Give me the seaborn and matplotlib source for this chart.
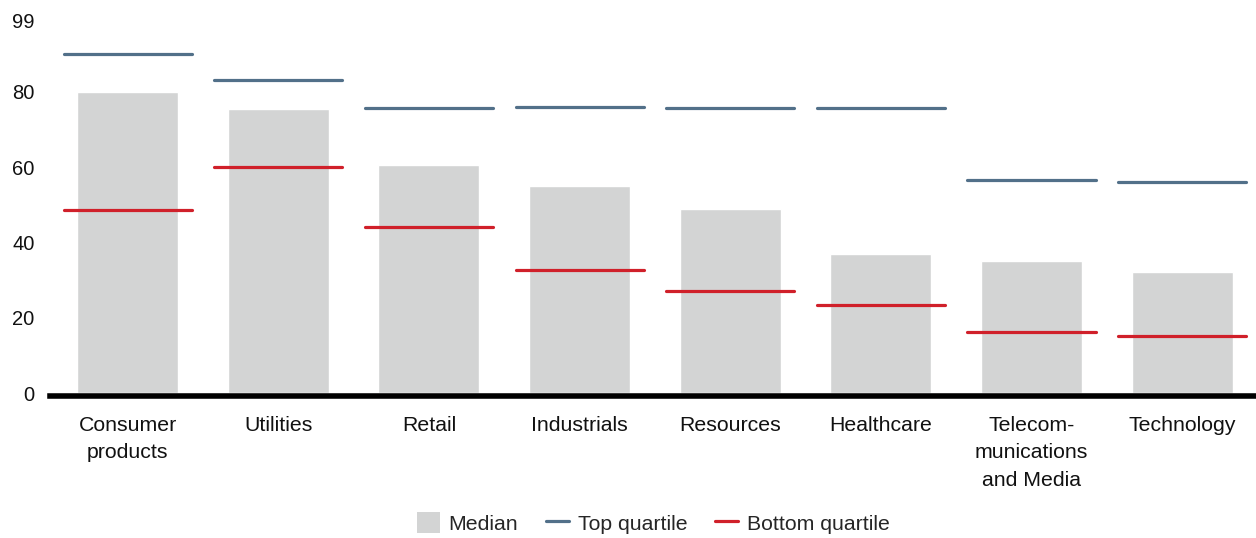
import numpy as np
import pandas as pd
import matplotlib
matplotlib.use('Agg')
import matplotlib.pyplot as plt
from matplotlib.patches import Patch
from matplotlib.lines import Line2D
import seaborn as sns

# Values
sectors = ['Consumer\nproducts', 'Utilities', 'Retail', 'Industrials', 'Resources',
           'Healthcare', 'Telecom-\nmunications\nand Media', 'Technology']
median = [80.0, 75.5, 60.6, 55.1, 49.0, 37.1, 35.2, 32.1]
top_quartile = [90.1, 83.1, 75.8, 76.0, 75.8, 75.8, 56.6, 56.1]
bottom_quartile = [48.7, 60.1, 44.1, 32.7, 27.1, 23.4, 16.2, 15.2]
y_ticks = [0, 20, 40, 60, 80, 99]

bar_color = '#d3d4d4'
top_color = '#527089'
bottom_color = '#d0202a'

sns.set_theme(style='white')
plt.rcParams['font.family'] = ['Liberation Sans', 'DejaVu Sans']

df = pd.DataFrame({'sector': sectors, 'median': median,
                   'top': top_quartile, 'bottom': bottom_quartile})

fig = plt.figure(figsize=(12.56, 5.38), dpi=100)
ax = fig.add_axes([50 / 1256, 0.269, 1 - 50 / 1256, 0.962 - 0.269])

sns.barplot(data=df, x='sector', y='median', color=bar_color, width=0.67,
            saturation=1, ax=ax)

# quartile markers, centred on each category slot
pos = np.arange(len(sectors))
half = 0.425
ax.hlines(df['top'], pos - half, pos + half, color=top_color, lw=2.3,
          capstyle='round')
ax.hlines(df['bottom'], pos - half, pos + half, color=bottom_color, lw=2.3,
          capstyle='round')

ax.set_xlim(-0.515, 7.49)
ax.set_ylim(0, 99)
ax.set_yticks(y_ticks)
ax.set_xticks(pos)
ax.set_xticklabels(sectors)
ax.set_xlabel('')
ax.set_ylabel('')
ax.tick_params(axis='y', length=0, pad=11, labelsize=14.5, labelcolor='#111111')
ax.tick_params(axis='x', length=0, pad=14, labelsize=15.3, labelcolor='#111111')

for side in ['left', 'right', 'top']:
    ax.spines[side].set_visible(False)
ax.spines['bottom'].set_color('black')
ax.spines['bottom'].set_linewidth(4)
ax.spines['bottom'].set_position(('outward', 2))

handles = [
    Patch(facecolor=bar_color, edgecolor='none', label='Median'),
    Line2D([], [], color=top_color, lw=2.3, label='Top quartile'),
    Line2D([], [], color=bottom_color, lw=2.3, label='Bottom quartile'),
]
fig.legend(handles=handles, loc='center', bbox_to_anchor=(653 / 1256, 15 / 538),
           ncol=3, frameon=False, fontsize=15.3, handlelength=1.1,
           handleheight=1.1, handletextpad=0.4, columnspacing=1.3)

# wider line spacing for the wrapped sector names
fig.canvas.draw()
for tick in ax.xaxis.get_major_ticks():
    tick.label1.set_linespacing(1.57)

fig.savefig('out.png', dpi=100)
